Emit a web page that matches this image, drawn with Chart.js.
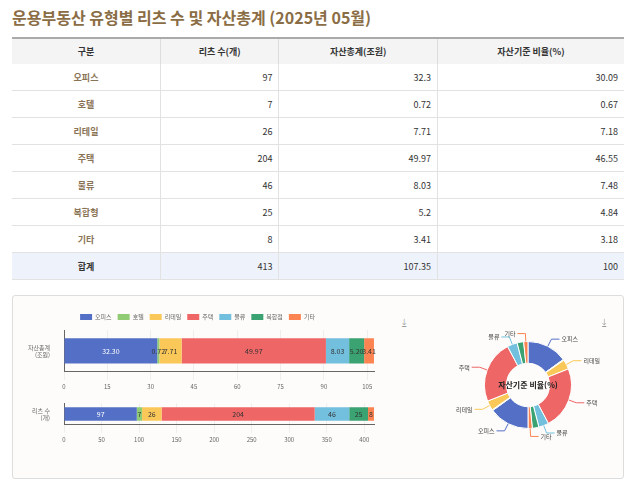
<!DOCTYPE html>
<html><head><meta charset="utf-8">
<script src="https://cdn.jsdelivr.net/npm/chart.js@4"></script>
<style>
body{margin:0;background:#fff;font-family:"Noto Sans CJK KR","Noto Sans",sans-serif;width:634px;height:495px;overflow:hidden}
h1{position:absolute;left:12px;top:5px;margin:0;font-size:16px;color:#8a6d45;font-weight:700}
table{position:absolute;left:12px;top:37px;width:612px;border-collapse:collapse;font-size:9px;color:#333}
th{background:#f4f4f4;height:25px;padding:0;line-height:9px;font-weight:700;border-top:2px solid #aaa;border-right:1px solid #ddd}
td{height:26px;padding:0 6px 0 0;line-height:9px;border-bottom:1px solid #e2e2e2;border-right:1px solid #e2e2e2;text-align:right}
td:first-child{text-align:center;color:#8a7456;font-weight:700;padding:0}
th:last-child,td:last-child{border-right:none}
tr.sum td{background:#eef2fa;color:#333}
.panel{position:absolute;left:12px;top:295px;width:610px;height:182px;border:1px solid #ddd;border-radius:3px;background:#fdfcfa}
.dl{position:absolute;top:18px;font-size:10px;color:#999}
</style></head><body>
<h1>운용부동산 유형별 리츠 수 및 자산총계 (2025년 05월)</h1>
<table id="tbl"><thead><tr><th style="width:148px">구분</th><th>리츠 수(개)</th><th>자산총계(조원)</th><th>자산기준 비율(%)</th></tr></thead><tbody></tbody></table>
<div class="panel">
<div style="position:absolute;left:8px;top:12px;width:355px;height:85px"><canvas id="c1"></canvas></div>
<div style="position:absolute;left:8px;top:94px;width:355px;height:56px"><canvas id="c2"></canvas></div>
<div style="position:absolute;left:425px;top:18px;width:180px;height:150px"><canvas id="c3"></canvas></div>
<div class="dl" style="left:389px">⤓</div><div class="dl" style="left:589px">⤓</div>
</div>
<script>
const categories=['오피스','호텔','리테일','주택','물류','복합형','기타'];
const reitCounts=[97,7,26,204,46,25,8];
const assets=[32.3,0.72,7.71,49.97,8.03,5.2,3.41];
const ratios=[30.09,0.67,7.18,46.55,7.48,4.84,3.18];
const totals=[413,107.35,100];
const colors=['#5470c6','#91cc75','#fac858','#ee6666','#73c0de','#3ba272','#fc8452'];
const legendNames=['오피스','호텔','리테일','주택','물류','복합점','기타'];

const tb=document.querySelector('#tbl tbody');
categories.forEach((c,i)=>{tb.innerHTML+=`<tr><td>${c}</td><td>${reitCounts[i]}</td><td>${assets[i]}</td><td>${ratios[i]}</td></tr>`});
tb.innerHTML+=`<tr class="sum"><td>합계</td><td>${totals[0]}</td><td>${totals[1]}</td><td>${totals[2]}</td></tr>`;

Chart.defaults.font.family='"Noto Sans CJK KR","Noto Sans",sans-serif';
Chart.defaults.font.size=7;
Chart.defaults.color='#666';

const barLabels={id:'barLabels',afterDatasetsDraw(ch,a,opt){
  const ctx=ch.ctx;ctx.save();ctx.font='7px "Noto Sans CJK KR"';ctx.textAlign='center';ctx.textBaseline='middle';
  ch.data.datasets.forEach((ds,i)=>{ch.getDatasetMeta(i).data.forEach((b,j)=>{
    ctx.fillStyle=(i==0)?'#fff':'#333';
    const v=ds.data[j];ctx.fillText(opt.fmt?v.toFixed(2):v,(b.x+b.base)/2,b.y);
  })});ctx.restore();}};

function barChart(id,vals,label,max,step,legend){
  new Chart(document.getElementById(id),{type:'bar',plugins:[barLabels],
    data:{labels:[label],datasets:legendNames.map((n,i)=>({label:n,data:[vals[i]],backgroundColor:colors[i],barPercentage:1,categoryPercentage:legend?0.6:0.62}))},
    options:{indexAxis:'y',responsive:true,maintainAspectRatio:false,animation:false,
      layout:{padding:{right:2}},
      plugins:{legend:{display:legend,labels:{boxWidth:12,boxHeight:6,font:{size:6},padding:6}},tooltip:{enabled:false},barLabels:{fmt:legend}},
      scales:{x:{stacked:true,min:0,max:max,afterBuildTicks(ax){const t=[];for(let v=0;v<=max;v+=step)t.push({value:v});ax.ticks=t},grid:{color:'#eee'},border:{color:'#666'},ticks:{font:{size:6}}},
        y:{stacked:true,grid:{display:false},border:{color:'#666'},ticks:{font:{size:6},padding:6},afterFit(s){s.width=43}}}}});
}
barChart('c1',assets,['자산총계','(조원)'],totals[1],15,true);
barChart('c2',reitCounts,['리츠 수','(개)'],totals[0],50,false);

// doughnut: 자산기준 비율 shown twice around the ring
const ringLabels=categories.concat(categories);
const ringVals=ratios.concat(ratios);
const callouts={id:'callouts',afterDatasetsDraw(ch){
  const ctx=ch.ctx;ctx.save();ctx.font='6px "Noto Sans CJK KR"';ctx.textBaseline='middle';
  ch.getDatasetMeta(0).data.forEach((a,i)=>{
    if(ringVals[i]<1||ringLabels[i]=='복합형')return;
    const m=(a.startAngle+a.endAngle)/2,r=a.outerRadius;
    const x1=a.x+Math.cos(m)*r,y1=a.y+Math.sin(m)*r,x2=a.x+Math.cos(m)*(r+8),y2=a.y+Math.sin(m)*(r+8);
    const dir=Math.cos(m)>=0?1:-1,x3=x2+dir*8;
    ctx.strokeStyle=colors[i%7];ctx.beginPath();ctx.moveTo(x1,y1);ctx.lineTo(x2,y2);ctx.lineTo(x3,y2);ctx.stroke();
    ctx.fillStyle='#444';ctx.textAlign=dir>0?'left':'right';ctx.fillText(ringLabels[i],x3+dir*2,y2);
  });
  ctx.font='bold 8px "Noto Sans CJK KR"';ctx.textAlign='center';ctx.fillStyle='#222';
  const a=ch.getDatasetMeta(0).data[0];ctx.fillText('자산기준 비율(%)',a.x,a.y);ctx.restore();}};
new Chart(document.getElementById('c3'),{type:'doughnut',plugins:[callouts],
  data:{labels:ringLabels,datasets:[{data:ringVals,backgroundColor:colors.concat(colors),borderColor:'#fff',borderWidth:1}]},
  options:{responsive:true,maintainAspectRatio:false,animation:false,cutout:'50%',layout:{padding:{top:27,bottom:35,left:46,right:46}},
    plugins:{legend:{display:false},tooltip:{enabled:false}}}});
</script>
</body></html>
